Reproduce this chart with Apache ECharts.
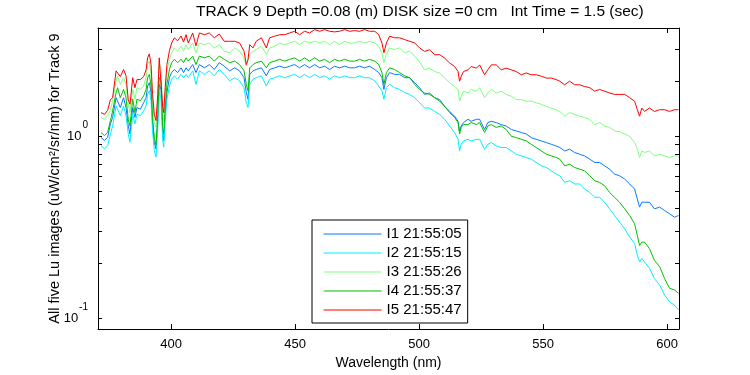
<!DOCTYPE html>
<html>
<head>
<meta charset="utf-8">
<script src="https://cdn.jsdelivr.net/npm/echarts@6/dist/echarts.min.js"></script>
<style>
  html, body { margin: 0; padding: 0; background: #fff; }
  #chart { width: 750px; height: 375px; }
</style>
</head>
<body>
<div id="chart"></div>
<script>
// wavelength (nm) shared by all five Lu spectra
const wavelength = [
  371.7, 373.1, 374.4, 375.5, 376.4, 377.8, 378.4, 379.5, 380.8, 381.8,
  382.7, 383.4, 384.5, 385.4, 386.2, 387.6, 388.9, 389.9, 390.5, 391.2,
  391.9, 392.5, 393.2, 393.9, 394.6, 395.2, 395.9, 396.6, 397.0, 397.6,
  398.3, 399.3, 400.2, 401.3, 402.6, 404.0, 405.0, 406.0, 406.9, 408.7,
  410.0, 411.4, 413.4, 415.4, 417.4, 419.4, 421.4,
  423.6, 425.6, 427.6, 429.4, 430.3, 431.0, 431.7, 433.0, 434.3, 436.4,
  438.4, 439.7, 441.7, 443.8, 445.8, 447.8, 449.8, 451.8, 453.8, 455.8,
  457.9, 459.9, 461.9, 463.9, 465.9, 467.9, 470.0, 472.0, 474.0, 476.0,
  478.0, 480.0, 482.1, 483.7, 485.0, 485.8, 486.8, 488.1, 490.1, 492.1,
  494.2, 496.2, 498.2, 500.2,
  502.2, 504.2, 506.3, 508.3, 510.3, 512.3, 514.3, 515.7, 516.3, 517.0,
  517.9, 519.7, 521.0, 523.1, 524.4, 526.4, 527.7, 529.1, 531.1, 533.1,
  535.1, 537.2, 539.2, 541.2, 543.2, 545.2, 547.2, 549.3, 551.3, 553.3,
  555.3,
  556.7, 558.7, 560.7, 562.7, 564.7, 566.7, 568.8, 570.8, 572.8, 574.8,
  576.8, 578.8, 580.8, 582.9, 584.9, 586.9, 588.0, 588.9, 589.8, 590.9,
  592.9, 594.9, 597.0, 599.0, 601.0, 603.0, 604.6
]

const luI1 = [
  0.987, 0.947, 0.987, 1.17, 1.27, 1.63, 1.63, 1.44, 1.63, 1.44,
  1.14, 1.03, 1.44, 1.27, 1.44, 1.41, 1.53, 1.63, 1.89, 1.97,
  1.74, 1.17, 0.927, 0.852, 1.22, 1.93, 1.81, 1.03, 0.947, 1.32,
  1.74, 2.10, 2.24, 2.33, 2.24, 2.38, 2.24, 2.38, 2.29, 2.48,
  2.24, 2.48, 2.38, 2.48, 2.33, 2.54, 2.43,
  2.29, 2.38, 2.29, 2.10, 1.74, 1.60, 2.19, 2.29, 2.33, 2.38,
  2.15, 2.33, 2.38, 2.43, 2.38, 2.43, 2.48, 2.38, 2.48, 2.38,
  2.48, 2.38, 2.43, 2.33, 2.43, 2.38, 2.43, 2.38, 2.38, 2.43,
  2.38, 2.43, 2.33, 2.24, 2.10, 1.81, 2.10, 2.24, 2.19, 2.19,
  2.10, 2.10, 1.97, 1.85,
  1.70, 1.73, 1.63, 1.59, 1.46, 1.37, 1.29, 1.21, 1.07, 1.14,
  1.19, 1.24, 1.21, 1.24, 1.24, 1.09, 1.19, 1.21, 1.19, 1.16,
  1.14, 1.09, 1.07, 1.05, 1.03, 0.984, 0.963, 0.943, 0.924, 0.904,
  0.885,
  0.868, 0.831, 0.849, 0.815, 0.797, 0.780, 0.749, 0.718, 0.718, 0.688,
  0.660, 0.620, 0.607, 0.582, 0.547, 0.513, 0.452, 0.408, 0.434, 0.434,
  0.434, 0.399, 0.408, 0.391, 0.375, 0.359, 0.367
]

const luI2 = [
  0.890, 0.852, 0.890, 1.03, 1.14, 1.47, 1.47, 1.30, 1.47, 1.30,
  1.03, 0.927, 1.32, 1.17, 1.32, 1.30, 1.38, 1.47, 1.70, 1.78,
  1.57, 1.07, 0.835, 0.768, 1.12, 1.74, 1.63, 0.947, 0.871, 1.22,
  1.60, 1.89, 2.06, 2.15, 2.06, 2.19, 2.10, 2.19, 2.10, 2.29,
  1.93, 2.29, 2.19, 2.29, 2.15, 2.33, 2.19,
  2.02, 2.10, 2.02, 1.85, 1.53, 1.44, 1.93, 2.06, 2.10, 2.15,
  1.89, 2.06, 2.10, 2.15, 2.10, 2.15, 2.19, 2.10, 2.19, 2.10,
  2.19, 2.10, 2.15, 2.06, 2.15, 2.10, 2.15, 2.10, 2.10, 2.15,
  2.10, 2.10, 2.02, 1.89, 1.78, 1.60, 1.85, 1.93, 1.85, 1.81,
  1.74, 1.70, 1.63, 1.53,
  1.43, 1.43, 1.37, 1.32, 1.24, 1.14, 1.05, 0.963, 0.831, 0.904,
  0.943, 0.963, 0.943, 0.963, 0.963, 0.849, 0.904, 0.924, 0.885, 0.868,
  0.868, 0.831, 0.797, 0.780, 0.765, 0.749, 0.718, 0.688, 0.674, 0.646,
  0.620,
  0.607, 0.558, 0.570, 0.547, 0.547, 0.513, 0.492, 0.462, 0.462, 0.434,
  0.399, 0.367, 0.338, 0.310, 0.280, 0.257, 0.222, 0.204, 0.213, 0.204,
  0.188, 0.165, 0.152, 0.134, 0.123, 0.118, 0.111
]

const luI3 = [
  1.27, 1.24, 1.30, 1.39, 1.57, 2.02, 2.15, 1.93, 2.10, 1.93,
  1.50, 1.35, 1.81, 1.60, 1.85, 1.81, 1.89, 2.10, 2.48, 2.59,
  2.19, 1.50, 1.19, 1.12, 1.57, 2.48, 2.38, 1.32, 1.22, 1.70,
  2.29, 2.65, 2.88, 3.06, 2.94, 3.13, 2.94, 3.19, 3.00, 3.26,
  2.88, 3.26, 3.19, 3.26, 3.06, 3.19, 2.94,
  2.88, 3.06, 2.94, 2.70, 2.43, 2.59, 2.81, 2.94, 3.00, 3.13,
  2.82, 3.06, 3.13, 3.26, 3.19, 3.26, 3.33, 3.19, 3.33, 3.26,
  3.33, 3.26, 3.33, 3.19, 3.33, 3.19, 3.33, 3.26, 3.26, 3.33,
  3.26, 3.33, 3.26, 3.13, 2.88, 2.54, 2.82, 3.06, 3.00, 3.06,
  2.88, 2.94, 2.76, 2.56,
  2.32, 2.37, 2.27, 2.23, 2.09, 1.97, 1.88, 1.81, 1.56, 1.66,
  1.77, 1.73, 1.81, 1.77, 1.85, 1.63, 1.73, 1.81, 1.73, 1.77,
  1.70, 1.66, 1.59, 1.59, 1.56, 1.56, 1.53, 1.50, 1.46, 1.43,
  1.40,
  1.37, 1.29, 1.35, 1.32, 1.29, 1.27, 1.24, 1.16, 1.19, 1.14,
  1.12, 1.07, 1.06, 1.03, 1.00, 0.924, 0.849, 0.765, 0.831, 0.815,
  0.831, 0.780, 0.797, 0.780, 0.765, 0.780, 0.780
]

const luI4 = [
  1.05, 1.01, 1.05, 1.22, 1.38, 1.74, 1.85, 1.63, 1.81, 1.63,
  1.24, 1.14, 1.60, 1.35, 1.60, 1.57, 1.67, 1.81, 2.10, 2.19,
  1.89, 1.27, 0.987, 0.890, 1.32, 2.10, 2.02, 1.12, 1.03, 1.44,
  1.93, 2.33, 2.54, 2.65, 2.54, 2.65, 2.54, 2.70, 2.59, 2.76,
  2.48, 2.76, 2.70, 2.76, 2.59, 2.76, 2.65,
  2.54, 2.59, 2.48, 2.29, 1.93, 1.78, 2.38, 2.48, 2.54, 2.59,
  2.38, 2.54, 2.59, 2.65, 2.59, 2.65, 2.70, 2.59, 2.70, 2.59,
  2.70, 2.59, 2.65, 2.54, 2.65, 2.59, 2.65, 2.59, 2.59, 2.65,
  2.59, 2.65, 2.59, 2.48, 2.24, 1.93, 2.24, 2.38, 2.33, 2.24,
  2.15, 2.10, 1.93, 1.81,
  1.73, 1.70, 1.63, 1.56, 1.46, 1.35, 1.27, 1.19, 1.03, 1.12,
  1.16, 1.16, 1.19, 1.16, 1.19, 1.05, 1.14, 1.16, 1.12, 1.14,
  1.09, 1.00, 0.984, 0.963, 0.943, 0.904, 0.868, 0.831, 0.797, 0.780,
  0.765,
  0.749, 0.688, 0.703, 0.674, 0.660, 0.646, 0.607, 0.570, 0.558, 0.535,
  0.492, 0.462, 0.434, 0.399, 0.367, 0.330, 0.285, 0.251, 0.262, 0.262,
  0.241, 0.208, 0.192, 0.165, 0.146, 0.143, 0.137
]

const luI5 = [
  1.35, 1.32, 1.39, 1.59, 1.63, 2.29, 2.33, 2.13, 2.33, 2.15,
  1.59, 1.50, 2.10, 1.85, 2.05, 2.05, 2.13, 2.32, 2.70, 2.84,
  2.48, 1.70, 1.32, 1.22, 1.70, 2.70, 2.65, 1.44, 1.35, 1.85,
  2.48, 2.95, 3.26, 3.48, 3.35, 3.56, 3.30, 3.62, 3.26, 3.70,
  3.14, 3.70, 3.62, 3.70, 3.48, 3.65, 3.33,
  3.33, 3.33, 3.26, 2.94, 2.48, 2.65, 3.19, 3.06, 3.33, 3.48,
  3.06, 3.48, 3.55, 3.62, 3.62, 3.70, 3.78, 3.62, 3.78, 3.70,
  3.86, 3.78, 3.86, 3.78, 3.75, 3.78, 3.86, 3.78, 3.81, 3.78,
  3.86, 3.78, 3.78, 3.62, 3.26, 2.88, 3.26, 3.55, 3.48, 3.48,
  3.40, 3.33, 3.26, 3.06,
  2.93, 2.99, 2.81, 2.81, 2.69, 2.53, 2.42, 2.27, 2.01, 2.14,
  2.27, 2.32, 2.42, 2.37, 2.47, 2.18, 2.32, 2.47, 2.47, 2.32,
  2.37, 2.32, 2.27, 2.18, 2.23, 2.18, 2.18, 2.14, 2.09, 2.09,
  2.05,
  2.01, 1.92, 2.01, 1.92, 1.92, 1.88, 1.85, 1.77, 1.81, 1.77,
  1.73, 1.70, 1.70, 1.70, 1.63, 1.56, 1.40, 1.29, 1.43, 1.37,
  1.43, 1.37, 1.40, 1.40, 1.37, 1.40, 1.40
]

const legendNames = ['I1 21:55:05', 'I2 21:55:15', 'I3 21:55:26', 'I4 21:55:37', 'I5 21:55:47']
const xTickValues = [400, 450, 500, 550, 600]
const yLabelValues = [0.1, 1]
const yTickValues = [0.1, 0.2, 0.3, 0.4, 0.5, 0.6, 0.7, 0.8, 0.9, 1, 2, 3]

const xRange = [370.5, 604.8]
const yRange = [0.0871, 3.94]
const font = 'Liberation Sans, Arial, Helvetica, sans-serif'

function pairs(values) {
  return wavelength.map((w, i) => [w, values[i]])
}

const chart = echarts.init(document.getElementById('chart'), null, { renderer: 'canvas' })

const boxLine = { show: true, onZero: false, lineStyle: { color: '#000', width: 1 } }

chart.setOption({
  animation: false,
  backgroundColor: '#fff',
  textStyle: { fontFamily: font, color: '#000' },
  title: {
    text: 'TRACK 9 Depth =0.08 (m) DISK size =0 cm   Int Time = 1.5 (sec)',
    left: 196,
    top: 4,
    padding: 0,
    textStyle: { fontFamily: font, fontSize: 15.5, fontWeight: 'normal', color: '#000' }
  },
  legend: {
    orient: 'vertical',
    left: 312,
    top: 220,
    padding: [4.5, 6, 3.5, 11],
    itemWidth: 58,
    itemHeight: 19,
    itemGap: 0,
    itemStyle: { opacity: 0 },
    lineStyle: { width: 1.2, color: 'inherit' },
    backgroundColor: '#fff',
    borderColor: '#000',
    borderWidth: 1,
    borderRadius: 0,
    textStyle: { fontFamily: font, fontSize: 15, color: '#000', lineHeight: 19 },
    data: legendNames
  },
  grid: { left: 98, top: 28, width: 581, height: 303, containLabel: false },
  xAxis: [
    {
      type: 'value',
      position: 'bottom',
      min: xRange[0],
      max: xRange[1],
      name: 'Wavelength (nm)',
      nameLocation: 'middle',
      nameGap: 24,
      nameTextStyle: { fontFamily: font, fontSize: 14, color: '#000' },
      axisLine: boxLine,
      axisTick: { show: true, inside: true, length: 5, customValues: xTickValues, lineStyle: { color: '#000' } },
      axisLabel: { customValues: xTickValues, margin: 9, fontFamily: font, fontSize: 13, color: '#000' },
      splitLine: { show: false }
    },
    {
      type: 'value',
      position: 'top',
      min: xRange[0],
      max: xRange[1],
      axisLine: boxLine,
      axisTick: { show: true, inside: true, length: 5, customValues: xTickValues, lineStyle: { color: '#000' } },
      axisLabel: { show: false },
      splitLine: { show: false }
    }
  ],
  yAxis: [
    {
      type: 'log',
      position: 'left',
      min: yRange[0],
      max: yRange[1],
      name: 'All five Lu images (uW/cm²/sr/nm) for Track 9',
      nameLocation: 'middle',
      nameGap: 36,
      nameMoveOverlap: false,
      nameTextStyle: { fontFamily: font, fontSize: 14.5, color: '#000' },
      axisLine: boxLine,
      axisTick: { show: true, inside: true, length: 4, customValues: yTickValues, lineStyle: { color: '#000' } },
      axisLabel: {
        customValues: yLabelValues,
        margin: 10,
        formatter: function (v) {
          return '{b|10}{s|' + Math.round(Math.log10(v)) + '}'
        },
        rich: {
          b: { fontFamily: font, fontSize: 13, color: '#000', verticalAlign: 'bottom', padding: [0, 0, 9, 0] },
          s: { fontFamily: font, fontSize: 10, color: '#000', verticalAlign: 'bottom', padding: [0, 0, 22, 1] }
        }
      },
      splitLine: { show: false }
    },
    {
      type: 'log',
      position: 'right',
      min: yRange[0],
      max: yRange[1],
      axisLine: boxLine,
      axisTick: { show: true, inside: true, length: 4, customValues: yTickValues, lineStyle: { color: '#000' } },
      axisLabel: { show: false },
      splitLine: { show: false }
    }
  ],
  series: [
    { name: legendNames[0], type: 'line', data: pairs(luI1), color: '#0a78ff' },
    { name: legendNames[1], type: 'line', data: pairs(luI2), color: '#00f0ff' },
    { name: legendNames[2], type: 'line', data: pairs(luI3), color: '#80ff80' },
    { name: legendNames[3], type: 'line', data: pairs(luI4), color: '#00c000' },
    { name: legendNames[4], type: 'line', data: pairs(luI5), color: '#ff0000' }
  ].map(s => Object.assign(s, {
    xAxisIndex: 0,
    yAxisIndex: 0,
    symbol: 'none',
    lineStyle: { width: 1, color: s.color },
    itemStyle: { color: s.color },
    emphasis: { disabled: true }
  }))
})
</script>
</body>
</html>
